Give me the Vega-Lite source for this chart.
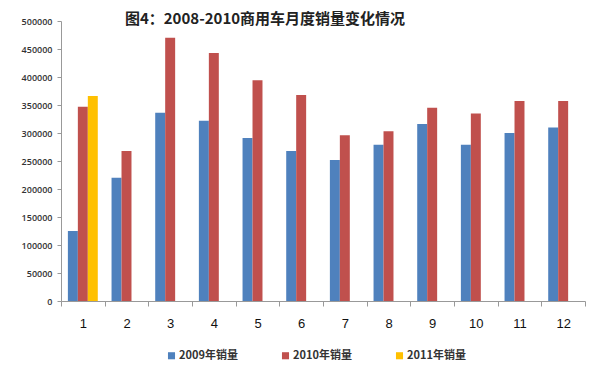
{
  "$schema": "https://vega.github.io/schema/vega-lite/v6.json",
  "autosize": "none",
  "width": 524,
  "height": 280,
  "padding": {"left": 61, "top": 21, "right": 15, "bottom": 77},
  "background": "white",
  "title": {
    "text": "图4：2008-2010商用车月度销量变化情况",
    "font": "Noto Sans CJK SC",
    "fontSize": 15,
    "fontWeight": "bold",
    "color": "#222222",
    "anchor": "middle",
    "frame": "group",
    "baseline": "middle",
    "offset": -17,
    "dx": -58
  },
  "data": {
    "values": [
      {"month": "1", "series": "2009年销量", "value": 125000},
      {"month": "1", "series": "2010年销量", "value": 347000},
      {"month": "1", "series": "2011年销量", "value": 366000},
      {"month": "2", "series": "2009年销量", "value": 220000},
      {"month": "2", "series": "2010年销量", "value": 268000},
      {"month": "3", "series": "2009年销量", "value": 336000},
      {"month": "3", "series": "2010年销量", "value": 470000},
      {"month": "4", "series": "2009年销量", "value": 322000},
      {"month": "4", "series": "2010年销量", "value": 443000},
      {"month": "5", "series": "2009年销量", "value": 291000},
      {"month": "5", "series": "2010年销量", "value": 394000},
      {"month": "6", "series": "2009年销量", "value": 268000},
      {"month": "6", "series": "2010年销量", "value": 368000},
      {"month": "7", "series": "2009年销量", "value": 252000},
      {"month": "7", "series": "2010年销量", "value": 296000},
      {"month": "8", "series": "2009年销量", "value": 279000},
      {"month": "8", "series": "2010年销量", "value": 303000},
      {"month": "9", "series": "2009年销量", "value": 316000},
      {"month": "9", "series": "2010年销量", "value": 345000},
      {"month": "10", "series": "2009年销量", "value": 279000},
      {"month": "10", "series": "2010年销量", "value": 335000},
      {"month": "11", "series": "2009年销量", "value": 300000},
      {"month": "11", "series": "2010年销量", "value": 357000},
      {"month": "12", "series": "2009年销量", "value": 310000},
      {"month": "12", "series": "2010年销量", "value": 357000}
    ]
  },
  "mark": {"type": "bar"},
  "encoding": {
    "x": {
      "field": "month",
      "type": "nominal",
      "sort": ["1","2","3","4","5","6","7","8","9","10","11","12"],
      "scale": {"paddingInner": 0, "paddingOuter": 0},
      "axis": {
        "title": null,
        "labelAngle": 0,
        "tickBand": "extent",
        "tickSize": 5,
        "tickColor": "#999999",
        "domainColor": "#999999",
        "labelFont": "Liberation Sans",
        "labelFontSize": 13,
        "labelColor": "#111111",
        "labelPadding": 11,
        "grid": false
      }
    },
    "xOffset": {
      "field": "series",
      "type": "nominal",
      "scale": {"domain": ["2009年销量", "2010年销量", "2011年销量"], "paddingInner": 0, "paddingOuter": 0.69}
    },
    "y": {
      "field": "value",
      "type": "quantitative",
      "scale": {"domain": [0, 500000], "nice": false},
      "axis": {
        "title": null,
        "values": [0,50000,100000,150000,200000,250000,300000,350000,400000,450000,500000],
        "format": "d",
        "grid": false,
        "tickSize": 4,
        "tickColor": "#999999",
        "domainColor": "#999999",
        "labelFont": "Open Sans",
        "labelFontSize": 9,
        "labelFontWeight": 600,
        "labelColor": "#333333",
        "labelPadding": 5
      }
    },
    "color": {
      "field": "series",
      "type": "nominal",
      "scale": {"domain": ["2009年销量", "2010年销量", "2011年销量"], "range": ["#4F81BD", "#C0504D", "#FFC000"]},
      "legend": {
        "title": null,
        "orient": "none",
        "direction": "horizontal",
        "legendX": 105,
        "legendY": 329,
        "columns": 3,
        "columnPadding": 42,
        "symbolType": "square",
        "symbolSize": 50,
        "symbolStrokeWidth": 0,
        "labelFont": "Noto Sans CJK SC",
        "labelFontSize": 11,
        "labelFontWeight": "bold",
        "labelColor": "#333333",
        "labelOffset": 2
      }
    }
  },
  "config": {"view": {"stroke": null}}
}
